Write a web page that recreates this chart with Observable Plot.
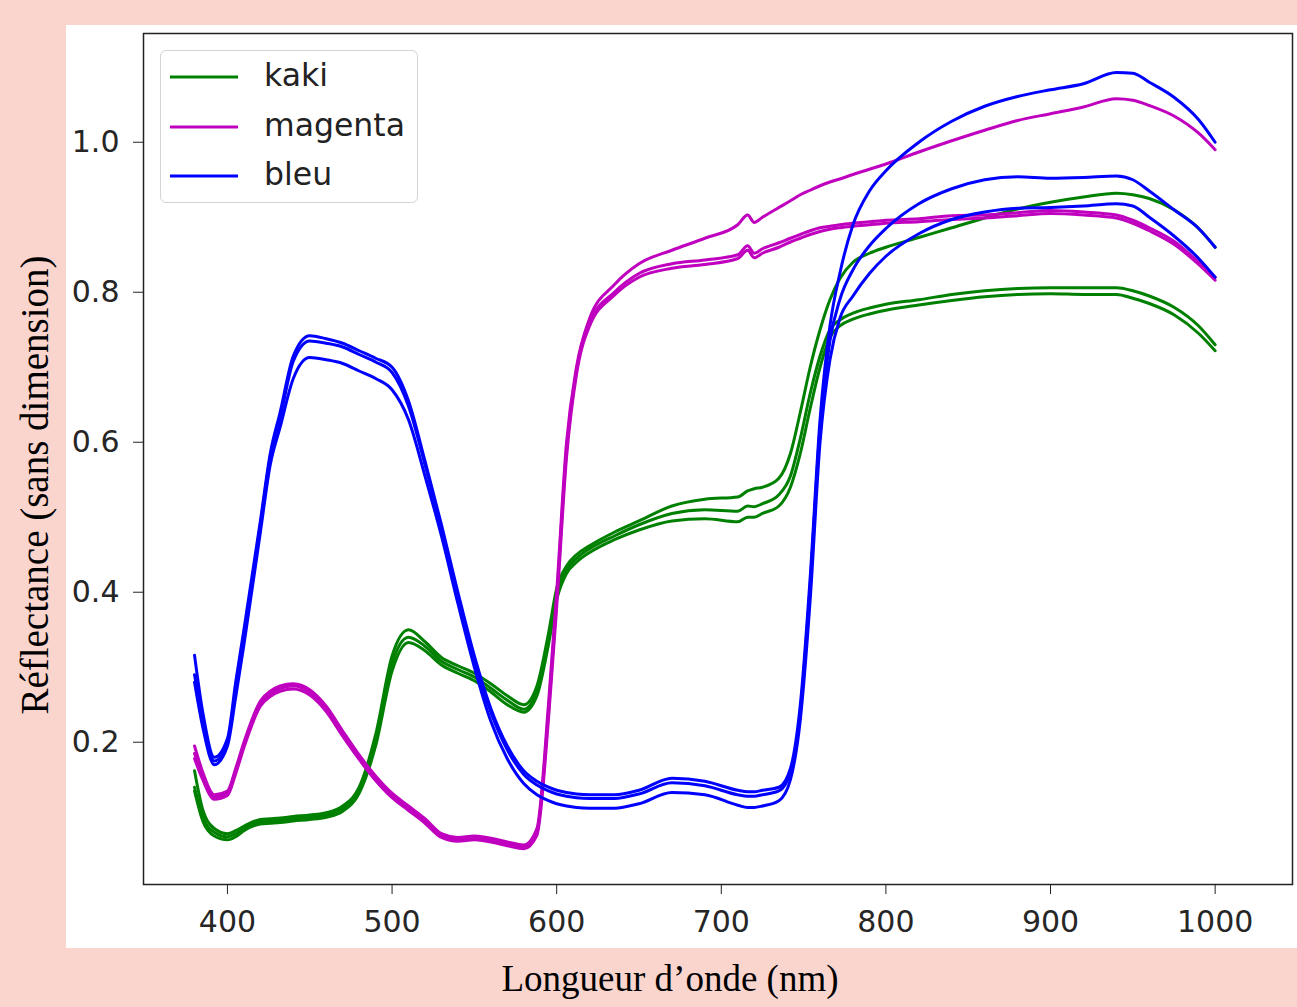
<!DOCTYPE html>
<html><head><meta charset="utf-8">
<script src="https://cdn.jsdelivr.net/npm/d3@7"></script>
<script src="https://cdn.jsdelivr.net/npm/@observablehq/plot@0.6"></script>
<style>
html,body{margin:0;padding:0;background:#fad5ce;width:1297px;height:1007px;overflow:hidden;}
#panel{position:absolute;left:66px;top:25px;width:1231px;height:923px;background:#fff;}
#legend{position:absolute;left:160px;top:50px;width:256px;height:151px;border:1.5px solid #d4d4d4;border-radius:6px;background:#fff;}
.row{position:absolute;left:0;height:40px;width:256px;}
.row svg{position:absolute;left:0;top:0;}
.row span{position:absolute;left:103px;top:0;line-height:40px;font:31.5px "DejaVu Sans";color:#222;}
#xlabel{position:absolute;left:670px;top:978px;transform:translate(-50%,-50%);white-space:nowrap;font:37px "Liberation Serif";color:#000;}
#ylabel{position:absolute;left:34px;top:485px;transform:translate(-50%,-50%) rotate(-90deg);white-space:nowrap;font:39px "Liberation Serif";color:#000;}
</style></head>
<body>
<div id="panel"></div>
<div id="legend"></div>
<div id="xlabel">Longueur d’onde (nm)</div>
<div id="ylabel">Réflectance (sans dimension)</div>
<script>
const wavelengths = [380,385,392,400,405,410,420,426,432,440,
 450,460,470,480,490,500,510,520,530,540,
 550,560,570,580,588,595,600,606,612,620,
 635,650,670,690,710,716,720,725,735,742,
 748,754,760,766,772,780,790,800,820,840,
 860,880,900,920,940,950,960,975,990,1000];

const kaki1 = [0.162,0.11,0.085,0.078,0.082,0.088,0.097,0.098,0.099,0.101,
 0.103,0.106,0.115,0.14,0.21,0.315,0.35,0.334,0.313,0.302,
 0.292,0.278,0.262,0.25,0.275,0.345,0.405,0.435,0.45,0.462,
 0.48,0.495,0.515,0.524,0.527,0.535,0.538,0.54,0.552,0.585,
 0.64,0.70,0.75,0.79,0.818,0.84,0.852,0.86,0.873,0.886,
 0.899,0.911,0.92,0.927,0.932,0.93,0.925,0.91,0.885,0.86];
const kaki2 = [0.14,0.1,0.08,0.074,0.078,0.085,0.094,0.095,0.096,0.098,
 0.1,0.103,0.112,0.136,0.2,0.305,0.34,0.328,0.308,0.297,
 0.287,0.272,0.256,0.244,0.268,0.338,0.398,0.43,0.445,0.458,
 0.475,0.49,0.505,0.51,0.508,0.515,0.514,0.518,0.53,0.555,
 0.605,0.665,0.715,0.75,0.763,0.772,0.779,0.784,0.79,0.797,
 0.802,0.805,0.806,0.806,0.806,0.802,0.795,0.78,0.755,0.73];
const kaki3 = [0.135,0.095,0.075,0.07,0.074,0.082,0.091,0.092,0.093,0.095,
 0.097,0.1,0.108,0.132,0.195,0.295,0.333,0.322,0.303,0.292,
 0.282,0.267,0.25,0.24,0.262,0.33,0.39,0.425,0.44,0.453,
 0.47,0.483,0.495,0.498,0.494,0.5,0.5,0.505,0.515,0.54,
 0.585,0.645,0.7,0.74,0.755,0.764,0.771,0.776,0.783,0.789,
 0.794,0.797,0.798,0.797,0.797,0.792,0.785,0.77,0.745,0.722];

const magenta1 = [0.195,0.16,0.13,0.135,0.165,0.2,0.255,0.268,0.275,0.278,
 0.27,0.248,0.215,0.183,0.155,0.132,0.115,0.098,0.078,0.073,
 0.075,0.072,0.067,0.063,0.085,0.25,0.40,0.6,0.70,0.765,
 0.81,0.838,0.856,0.872,0.89,0.903,0.893,0.9,0.913,0.922,
 0.93,0.936,0.942,0.947,0.951,0.957,0.964,0.971,0.987,1.002,
 1.016,1.029,1.038,1.047,1.058,1.056,1.049,1.035,1.012,0.99];
const magenta2 = [0.185,0.155,0.127,0.132,0.162,0.197,0.252,0.265,0.272,0.275,
 0.267,0.245,0.212,0.18,0.152,0.129,0.112,0.095,0.075,0.07,
 0.072,0.069,0.064,0.06,0.08,0.24,0.39,0.59,0.695,0.76,
 0.8,0.825,0.838,0.843,0.85,0.862,0.852,0.858,0.866,0.872,
 0.877,0.882,0.886,0.888,0.89,0.892,0.894,0.896,0.898,0.902,
 0.903,0.906,0.909,0.907,0.903,0.896,0.886,0.868,0.84,0.82];
const magenta3 = [0.178,0.15,0.124,0.129,0.158,0.193,0.248,0.261,0.268,0.271,
 0.263,0.241,0.208,0.177,0.149,0.126,0.109,0.092,0.073,0.068,
 0.07,0.067,0.062,0.058,0.076,0.23,0.38,0.58,0.69,0.755,
 0.796,0.82,0.832,0.837,0.845,0.856,0.846,0.852,0.86,0.867,
 0.872,0.877,0.881,0.884,0.886,0.888,0.89,0.892,0.894,0.897,
 0.899,0.902,0.905,0.903,0.899,0.892,0.882,0.864,0.837,0.816];

const bleu1 = [0.316,0.24,0.18,0.205,0.28,0.35,0.495,0.585,0.64,0.715,
 0.742,0.738,0.732,0.722,0.712,0.70,0.655,0.575,0.49,0.40,
 0.315,0.245,0.195,0.162,0.148,0.14,0.136,0.133,0.131,0.13,
 0.13,0.136,0.152,0.148,0.136,0.134,0.134,0.136,0.14,0.165,
 0.25,0.42,0.63,0.755,0.825,0.89,0.935,0.962,1.0,1.028,
 1.048,1.061,1.07,1.078,1.093,1.092,1.08,1.06,1.03,1.0];
const bleu2 = [0.29,0.23,0.175,0.2,0.27,0.34,0.49,0.58,0.632,0.708,
 0.735,0.732,0.727,0.717,0.707,0.693,0.648,0.57,0.485,0.395,
 0.31,0.24,0.19,0.157,0.143,0.135,0.131,0.128,0.126,0.125,
 0.125,0.131,0.146,0.142,0.13,0.128,0.128,0.13,0.135,0.16,
 0.24,0.41,0.62,0.735,0.79,0.83,0.862,0.885,0.918,0.938,
 0.95,0.954,0.952,0.953,0.955,0.95,0.935,0.91,0.885,0.86];
const bleu3 = [0.28,0.22,0.17,0.195,0.26,0.33,0.48,0.57,0.62,0.685,
 0.713,0.71,0.705,0.695,0.685,0.67,0.63,0.555,0.475,0.385,
 0.3,0.228,0.178,0.145,0.13,0.122,0.118,0.115,0.113,0.112,
 0.112,0.118,0.133,0.13,0.116,0.113,0.113,0.115,0.122,0.15,
 0.23,0.39,0.6,0.71,0.765,0.795,0.825,0.848,0.878,0.897,
 0.907,0.912,0.913,0.915,0.918,0.915,0.9,0.875,0.845,0.82];

const categories = ["kaki", "magenta", "bleu"];
const colors = ["#008000", "#bf00bf", "#0000ff"];
const xTicks = [400, 500, 600, 700, 800, 900, 1000];
const yTicks = [0.2, 0.4, 0.6, 0.8, 1.0];

const seriesList = [
  ["kaki", "kaki1", kaki1], ["kaki", "kaki2", kaki2], ["kaki", "kaki3", kaki3],
  ["magenta", "magenta1", magenta1], ["magenta", "magenta2", magenta2], ["magenta", "magenta3", magenta3],
  ["bleu", "bleu1", bleu1], ["bleu", "bleu2", bleu2], ["bleu", "bleu3", bleu3]
];
const rows = [];
for (const [cat, id, vals] of seriesList) {
  wavelengths.forEach((w, i) => rows.push({cat, id, w, r: vals[i]}));
}

const chart = Plot.plot({
  width: 1231, height: 923,
  marginLeft: 77, marginTop: 8, marginRight: 5, marginBottom: 64,
  style: {fontFamily: "DejaVu Sans", fontSize: "30px", color: "#262626", background: "transparent"},
  x: {domain: [349, 1047]},
  y: {domain: [0.0103, 1.145]},
  color: {domain: categories, range: colors},
  marks: [
    Plot.axisX({ticks: xTicks, tickSize: 10, tickPadding: 16, label: null, tickFormat: d => String(d), stroke: "#222"}),
    Plot.axisY({ticks: yTicks, tickSize: 10, tickPadding: 14, label: null, tickFormat: d3.format(".1f"), stroke: "#222"}),
    Plot.line(rows, {x: "w", y: "r", z: "id", stroke: "cat", strokeWidth: 3, curve: "monotone-x"}),
    Plot.frame({stroke: "#222", strokeWidth: 1.5})
  ]
});
document.getElementById("panel").appendChild(chart);

const legend = document.getElementById("legend");
categories.forEach((c, i) => {
  const row = document.createElement("div");
  row.className = "row";
  row.style.top = (6 + i * 49.5) + "px";
  row.innerHTML = `<svg width="90" height="40"><line x1="9" x2="77" y1="20" y2="20" stroke="${colors[i]}" stroke-width="3"/></svg><span>${c}</span>`;
  legend.appendChild(row);
});
</script>
</body></html>
